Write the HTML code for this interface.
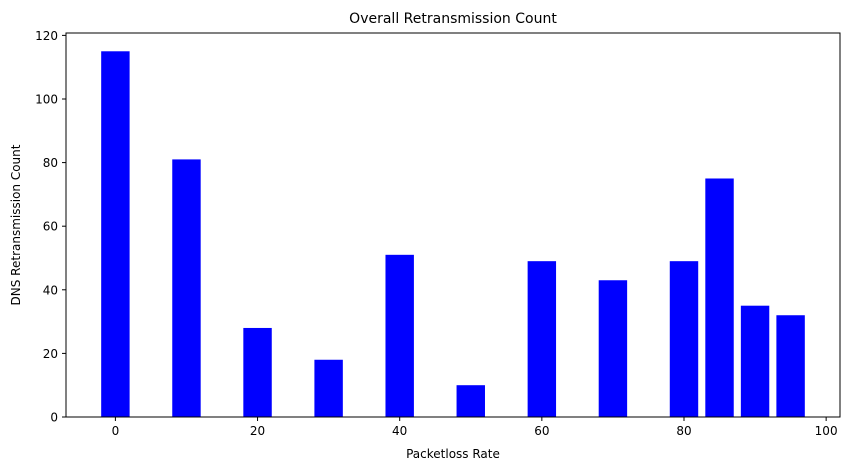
<!DOCTYPE html>
<html><head><meta charset="utf-8"><style>
body{margin:0;background:#fff;}
svg text{font-family:"DejaVu Sans","Liberation Sans",sans-serif;fill:#000;}
</style></head><body>
<svg id="chart" width="850" height="470" xmlns="http://www.w3.org/2000/svg">
<rect width="850" height="470" fill="#fff"/>
<text x="453" y="23" font-size="14" text-anchor="middle">Overall Retransmission Count</text>
<g id="bars"></g>
<g id="xticks"></g>
<g id="yticks"></g>
<rect x="66" y="33" width="774" height="384" fill="none" stroke="#000" stroke-width="1"/>
<text x="453" y="458" font-size="12" text-anchor="middle">Packetloss Rate</text>
<text transform="translate(20,225) rotate(-90)" font-size="12" text-anchor="middle">DNS Retransmission Count</text>
</svg>
<script>
const categories=[0,10,20,30,40,50,60,70,80,85,90,95];
const values=[115,81,28,18,51,10,49,43,49,75,35,32];
const xTickLabels=[0,20,40,60,80,100];
const yTickLabels=[0,20,40,60,80,100,120];
const barWidth=4;
const NS="http://www.w3.org/2000/svg";
const X0=66,X1=840,Y0=417,Y1=33;
const xmin=-6.95,xmax=101.95,ymin=0,ymax=120.75;
const xs=v=>X0+(v-xmin)/(xmax-xmin)*(X1-X0);
const ys=v=>Y0-(v-ymin)/(ymax-ymin)*(Y0-Y1);
const bars=document.getElementById('bars');
categories.forEach((c,i)=>{
 const r=document.createElementNS(NS,'rect');
 const l=xs(c-barWidth/2),rr=xs(c+barWidth/2);
 r.setAttribute('x',l);r.setAttribute('width',rr-l);
 r.setAttribute('y',ys(values[i]));r.setAttribute('height',ys(0)-ys(values[i]));
 r.setAttribute('fill','#0000ff');
 
 
 bars.appendChild(r);
});
const xt=document.getElementById('xticks');
xTickLabels.forEach(t=>{
 const x=xs(t);
 const ln=document.createElementNS(NS,'line');
 ln.setAttribute('x1',x);ln.setAttribute('x2',x);ln.setAttribute('y1',Y0);ln.setAttribute('y2',Y0+4);ln.setAttribute('stroke','#000');
 
 
 xt.appendChild(ln);
 const tx=document.createElementNS(NS,'text');
 tx.setAttribute('x',x);tx.setAttribute('y',Y0+18);tx.setAttribute('font-size','12');tx.setAttribute('text-anchor','middle');
 tx.textContent=t;
 
 
 xt.appendChild(tx);
});
const yt=document.getElementById('yticks');
yTickLabels.forEach(t=>{
 const y=ys(t);
 const ln=document.createElementNS(NS,'line');
 ln.setAttribute('x1',X0-4);ln.setAttribute('x2',X0);ln.setAttribute('y1',y);ln.setAttribute('y2',y);ln.setAttribute('stroke','#000');
 
 
 yt.appendChild(ln);
 const tx=document.createElementNS(NS,'text');
 tx.setAttribute('x',X0-8);tx.setAttribute('y',y+4.5);tx.setAttribute('font-size','12');tx.setAttribute('text-anchor','end');
 tx.textContent=t;
 
 
 yt.appendChild(tx);
});
</script>
</body></html>
